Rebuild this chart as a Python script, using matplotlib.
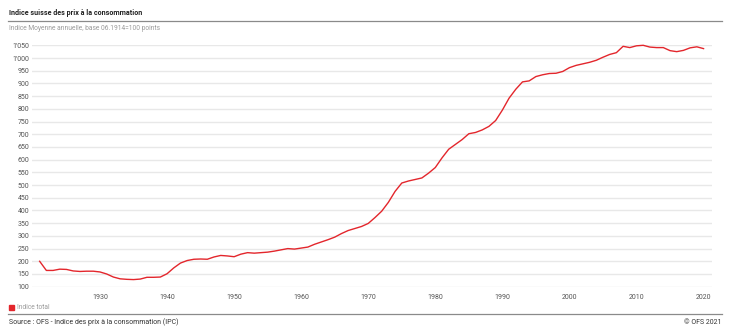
import matplotlib
matplotlib.use("Agg")
import matplotlib.pyplot as plt
from matplotlib.ticker import FuncFormatter, MultipleLocator
from matplotlib.patches import Rectangle

plt.rcParams['font.family'] = ['Roboto', 'DejaVu Sans']

years = list(range(1921, 2021))
indice_total = [
    200, 164, 164, 169, 168, 162, 160, 161, 161, 158,   # 1921-1930
    150, 138, 131, 129, 128, 130, 137, 137, 138, 151,   # 1931-1940
    174, 193, 203, 208, 209, 208, 217, 223, 221, 218,   # 1941-1950
    228, 234, 232, 234, 236, 240, 245, 250, 248, 252,   # 1951-1960
    256, 267, 276, 285, 295, 309, 321, 329, 337, 349,   # 1961-1970
    372, 397, 432, 475, 508, 516, 522, 528, 547, 569,   # 1971-1980
    607, 641, 660, 679, 702, 707, 717, 731, 754, 795,   # 1981-1990
    842, 877, 906, 910, 927, 934, 939, 940, 947, 962,   # 1991-2000
    971, 977, 983, 991, 1003, 1014, 1021, 1046, 1041, 1048,  # 2001-2010
    1050, 1043, 1041, 1041, 1029, 1025, 1030, 1040, 1044, 1037,  # 2011-2020
]
x_ticks = [1930, 1940, 1950, 1960, 1970, 1980, 1990, 2000, 2010, 2020]

title = "Indice suisse des prix à la consommation"
subtitle = "Indice Moyenne annuelle, base 06.1914=100 points"
series_name = "Indice total"
source = "Source : OFS - Indice des prix à la consommation (IPC)"
copyright_txt = "© OFS 2021"

W, H = 729, 328
fig = plt.figure(figsize=(W / 100, H / 100), dpi=100)

def fx(px):
    return px / W

def fy(py):
    return 1 - py / H

ax = fig.add_axes([fx(32), fy(286.7), fx(712) - fx(32), fy(45.3) - fy(286.7)])
line_color = "#e3262c"
ax.plot(years, indice_total, color=line_color, lw=1.0, clip_on=False, zorder=3)

ax.set_xlim(1919.86, 2021.26)
ax.set_ylim(100, 1050)
ax.yaxis.set_major_locator(MultipleLocator(50))
ax.set_xticks(x_ticks)

def thousands(v, pos):
    v = int(round(v))
    if v >= 1000:
        return f"{v // 1000}'{v % 1000:03d}"
    return str(v)

ax.yaxis.set_major_formatter(FuncFormatter(thousands))
ax.grid(axis='y', color="#e8e8e8", lw=1.0)
ax.set_axisbelow(True)
for s in ax.spines.values():
    s.set_visible(False)
ax.tick_params(axis='y', length=0, pad=2, labelsize=5, labelcolor="#555555")
ax.tick_params(axis='x', length=0, pad=5, labelsize=5, labelcolor="#555555")
for lab in ax.get_xticklabels():
    lab.set_horizontalalignment('center')

# header
fig.text(fx(9), fy(13), title, fontsize=5.1, fontweight='bold', color="#222222",
         ha='left', va='center')
fig.add_artist(plt.Line2D([fx(8), fx(722)], [fy(20.5), fy(20.5)], color="#8a8a8a", lw=0.9))
fig.text(fx(9), fy(29), subtitle, fontsize=4.8, color="#9a9a9a", ha='left', va='center')

# legend
fig.add_artist(Rectangle((fx(9), fy(310)), fx(5), fy(305) - fy(310), color=line_color,
                         transform=fig.transFigure))
fig.text(fx(17), fy(307.5), series_name, fontsize=4.8, color="#9a9a9a", ha='left', va='center')

# footer
fig.add_artist(plt.Line2D([fx(8), fx(722)], [fy(313.5), fy(313.5)], color="#8a8a8a", lw=0.9))
fig.text(fx(9), fy(322), source, fontsize=5.0, color="#333333", ha='left', va='center')
fig.text(fx(722), fy(322), copyright_txt, fontsize=5.0, color="#333333", ha='right', va='center')

fig.savefig("out.png", dpi=100, facecolor="white")
